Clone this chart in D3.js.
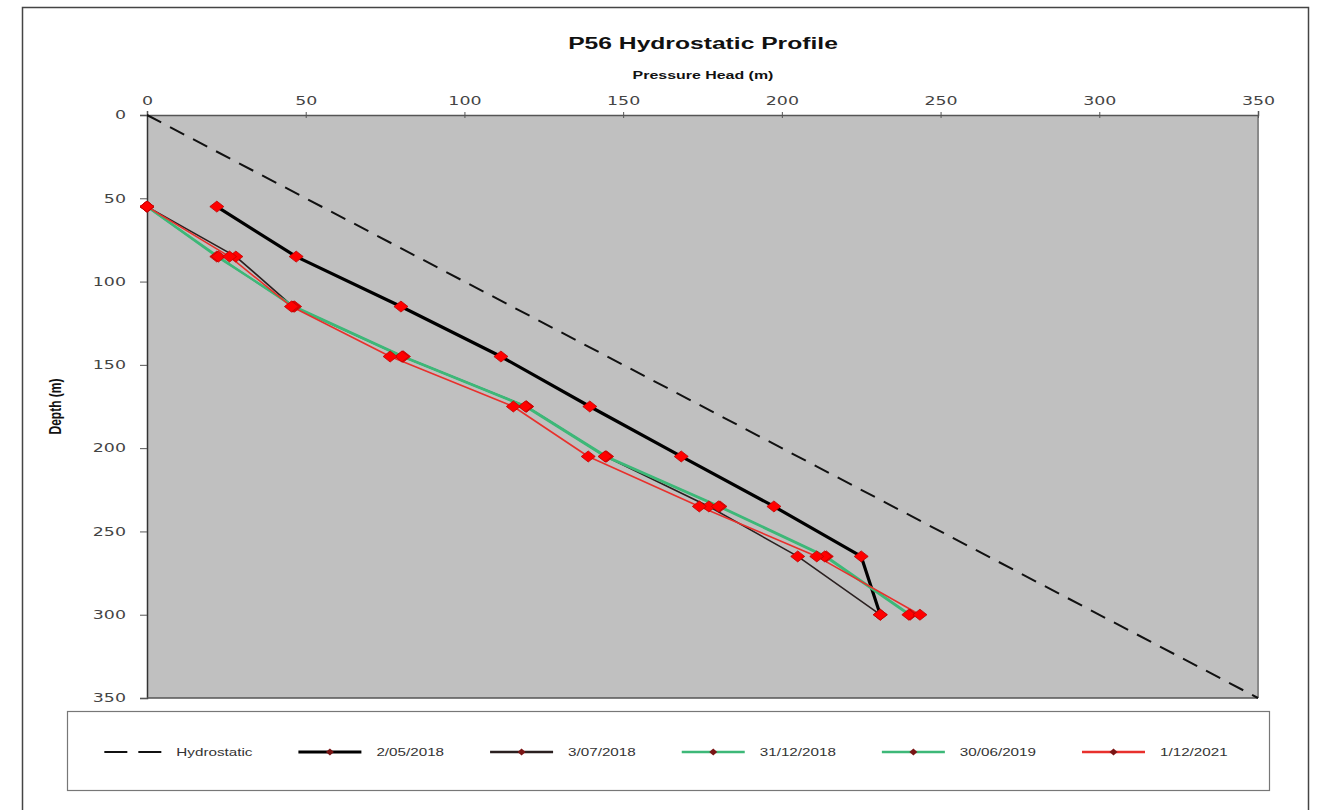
<!DOCTYPE html>
<html>
<head>
<meta charset="utf-8">
<script src="https://cdn.jsdelivr.net/npm/d3@7"></script>
<style>
  html, body { margin: 0; padding: 0; background: #ffffff; }
  svg { display: block; }
</style>
</head>
<body>
<svg id="chart" width="1321" height="810"></svg>
<script>
// ---------------- DATA ----------------
const depths = [55, 85, 115, 145, 175, 205, 235, 265, 300];
const xTicks = [0, 50, 100, 150, 200, 250, 300, 350];
const yTicks = [0, 50, 100, 150, 200, 250, 300, 350];
const hydrostaticX = [0, 350];
const hydrostaticY = [0, 350];
const seriesNames = ["2/05/2018", "3/07/2018", "31/12/2018", "30/06/2019", "1/12/2021"];
const s20180502 = [22, 47, 80, 111.5, 139.5, 168.3, 197.5, 225, 231];
const s20180703 = [0, 28, 46, 80.5, 119.5, 144.5, 177, 205, 231];
const s20181231 = [0, 22, 46.5, 80.8, 119.6, 144.8, 180.5, 214, 240.4];
const s20190630 = [0, 22.5, 46, 80.3, 119.2, 144.3, 180, 213.5, 240];
const s20211201 = [0, 26, 45.5, 76.6, 115.4, 139, 174, 211, 243.5];
const seriesValues = [s20180502, s20180703, s20181231, s20190630, s20211201];

// ---------------- STYLE ----------------
const SX = 1.45; // horizontal text stretch seen in the reference
const seriesStyle = [
  { color: "#000000", width: 3.2 },
  { color: "#2a2020", width: 1.6 },
  { color: "#3db878", width: 2.2 },
  { color: "#3db878", width: 2.2 },
  { color: "#e8302c", width: 1.6 }
];

const svg = d3.select("#chart");

svg.append("rect")
  .attr("x", 22.5).attr("y", 7.5)
  .attr("width", 1286).attr("height", 820)
  .attr("fill", "#ffffff")
  .attr("stroke", "#444").attr("stroke-width", 1.5);

const x = d3.scaleLinear().domain([0, 350]).range([147, 1258]);
const y = d3.scaleLinear().domain([0, 350]).range([115, 698]);

svg.append("rect")
  .attr("x", x(0)).attr("y", y(0))
  .attr("width", x(350) - x(0)).attr("height", y(350) - y(0))
  .attr("fill", "#c0c0c0");

svg.append("line")
  .attr("x1", x(350)).attr("x2", x(350)).attr("y1", y(0)).attr("y2", y(350))
  .attr("stroke", "#8a8a8a").attr("stroke-width", 2);

const tickFont = "DejaVu Sans, Verdana, sans-serif";

const xAxis = d3.axisTop(x).tickValues(xTicks).tickSize(4).tickPadding(6).tickFormat(d3.format("d"));
const gx = svg.append("g").attr("transform", `translate(0,${y(0)})`).call(xAxis);
gx.select(".domain").attr("stroke", "#555").attr("stroke-width", 1.5);
gx.selectAll(".tick line").attr("stroke", "#555").attr("y2", 3).attr("y1", -3);
gx.selectAll(".tick text")
  .attr("fill", "#444").attr("font-family", tickFont).attr("font-size", 12)
  .attr("y", -10).attr("dy", 0)
  .attr("transform", `scale(${SX},1)`);

const yAxis = d3.axisLeft(y).tickValues(yTicks).tickSize(7).tickPadding(10).tickFormat(d3.format("d"));
const gy = svg.append("g").attr("transform", `translate(${x(0)},0)`).call(yAxis);
gy.select(".domain").attr("stroke", "#333").attr("stroke-width", 1.5);
gy.selectAll(".tick line").attr("stroke", "#555");
gy.selectAll(".tick text")
  .attr("fill", "#444").attr("font-family", tickFont).attr("font-size", 12)
  .attr("x", 0)
  .attr("transform", `translate(-21,0) scale(${SX},1)`);

svg.append("line")
  .attr("x1", x(0)).attr("x2", x(350)).attr("y1", y(350)).attr("y2", y(350))
  .attr("stroke", "#555").attr("stroke-width", 1.5);

// Titles
const titleFont = "Liberation Sans, Arial, sans-serif";
svg.append("text")
  .attr("transform", `translate(703,49) scale(${SX},1)`)
  .attr("text-anchor", "middle")
  .attr("font-family", titleFont).attr("font-weight", "bold")
  .attr("font-size", 17).attr("fill", "#111")
  .text("P56 Hydrostatic Profile");
svg.append("text")
  .attr("transform", `translate(703,79) scale(${SX},1)`)
  .attr("text-anchor", "middle")
  .attr("font-family", titleFont).attr("font-weight", "bold")
  .attr("font-size", 11).attr("fill", "#111")
  .text("Pressure Head (m)");
svg.append("text")
  .attr("transform", `translate(61,${(y(0) + y(350)) / 2}) scale(${SX},1) rotate(-90)`)
  .attr("text-anchor", "middle")
  .attr("font-family", titleFont).attr("font-weight", "bold")
  .attr("font-size", 12).attr("fill", "#111")
  .text("Depth (m)");

svg.append("clipPath").attr("id", "plotclip").append("rect")
  .attr("x", x(0)).attr("y", y(0) - 2).attr("width", x(350) - x(0) + 2).attr("height", y(350) - y(0) + 4);

const plot = svg.append("g").attr("clip-path", "url(#plotclip)");

plot.append("path")
  .datum(hydrostaticX.map((v, i) => [v, hydrostaticY[i]]))
  .attr("d", d3.line().x(d => x(d[0])).y(d => y(d[1])))
  .attr("fill", "none").attr("stroke", "#111").attr("stroke-width", 2)
  .attr("stroke-dasharray", "16,10");

const line = d3.line().x(d => x(d[0])).y(d => y(d[1]));

seriesValues.forEach((vals, i) => {
  plot.append("path")
    .datum(vals.map((v, j) => [v, depths[j]]))
    .attr("d", line)
    .attr("fill", "none")
    .attr("stroke", seriesStyle[i].color)
    .attr("stroke-width", seriesStyle[i].width)
    .attr("stroke-linejoin", "round");
});

function diamond(cx, cy, hw, hh) {
  return `M${cx - hw},${cy}L${cx},${cy - hh}L${cx + hw},${cy}L${cx},${cy + hh}Z`;
}

seriesValues.forEach((vals) => {
  svg.append("g").selectAll("path")
    .data(vals.map((v, j) => [v, depths[j]]))
    .join("path")
    .attr("d", d => diamond(x(d[0]), y(d[1]), 7, 5.5))
    .attr("fill", "#ff0000")
    .attr("stroke", "#c00000").attr("stroke-width", 0.8);
});

// Legend
svg.append("rect")
  .attr("x", 67.5).attr("y", 711.5).attr("width", 1202).attr("height", 79)
  .attr("fill", "#fff").attr("stroke", "#777").attr("stroke-width", 1.2);

const legendItems = [{ name: "Hydrostatic", color: "#111", width: 2, dash: "23,11", marker: false }]
  .concat(seriesNames.map((n, i) => ({ name: n, color: seriesStyle[i].color, width: Math.max(seriesStyle[i].width, 2.4), dash: null, marker: true })));

const lg = svg.append("g");
let cursor = 0;
const ly = 752;
const lineLen = 63, textGap = 15, itemGap = 46;
legendItems.forEach((it) => {
  const g = lg.append("g").attr("transform", `translate(${cursor},0)`);
  const len = it.marker ? lineLen : 57;
  g.append("line")
    .attr("x1", 0).attr("x2", len).attr("y1", ly).attr("y2", ly)
    .attr("stroke", it.color).attr("stroke-width", it.width)
    .attr("stroke-dasharray", it.dash);
  if (it.marker) {
    g.append("path").attr("d", diamond(lineLen / 2, ly, 4, 3.5)).attr("fill", "#7a1515");
  }
  const t = g.append("text")
    .attr("transform", `translate(${len + textGap},${ly + 4}) scale(${SX},1)`)
    .attr("font-family", titleFont).attr("font-size", 10.5)
    .attr("fill", "#333").text(it.name);
  cursor += len + textGap + t.node().getComputedTextLength() * SX + itemGap;
});
const totalW = cursor - itemGap;
lg.attr("transform", `translate(${666 - totalW / 2},0)`);
</script>
</body>
</html>
